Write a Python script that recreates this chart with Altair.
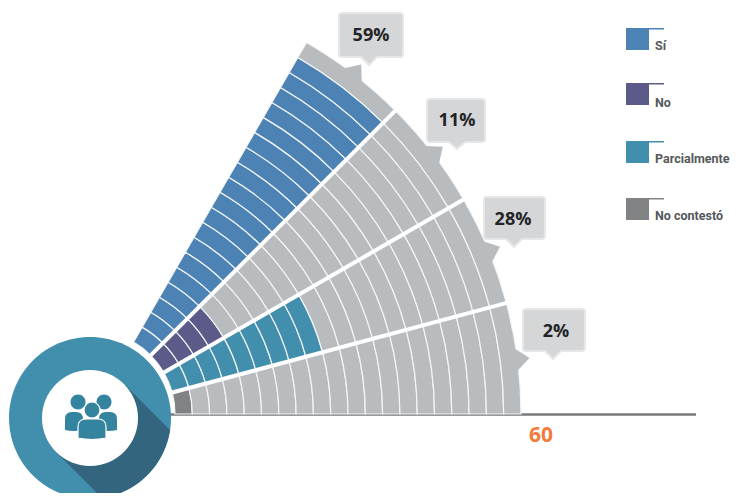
import math
import altair as alt
import pandas as pd

# ---- values ----
categories = ["No contestó", "Parcialmente", "No", "Sí"]      # sector order, from the baseline upward
percent_labels = ["2%", "28%", "11%", "59%"]
filled_cells = [1, 9, 4, 19]
category_colors = ["#808284", "#428ead", "#5b5a88", "#4c83b4"]
legend_order = ["Sí", "No", "Parcialmente", "No contestó"]
legend_colors = ["#4c83b4", "#5b5a88", "#428ead", "#808284"]
axis_label = "60"
TOTAL_CELLS = 20
SECTOR_DEG = 15

GRAY = "#b9bcbf"
W, H = 722, 485
CX, CY = 92, 414
R0, R1 = 83, 429

x_scale = alt.Scale(domain=[8, 8 + W], range=[0, W])
y_scale = alt.Scale(domain=[8, 8 + H], range=[0, H])
X = lambda f: alt.X(f, type="quantitative", scale=x_scale, axis=None)
Y = lambda f: alt.Y(f, type="quantitative", scale=y_scale, axis=None)

# ---- fan cells ----
cells = []
for s, n in enumerate(filled_cells):
    for c in range(TOTAL_CELLS):
        cells.append(dict(a0=s * SECTOR_DEG, a1=(s + 1) * SECTOR_DEG, r0=c, r1=c + 1,
                          color=category_colors[s] if c < n else GRAY))
cells = pd.DataFrame(cells)

fan = alt.Chart(cells).mark_arc(stroke="#f4f5f5", strokeWidth=1.2).encode(
    x=alt.value(CX - 8), y=alt.value(CY - 8),
    theta=alt.Theta("a0:Q", scale=alt.Scale(domain=[0, 360], range=[math.pi / 2, math.pi / 2 - 2 * math.pi])),
    theta2="a1:Q",
    radius=alt.Radius("r0:Q", scale=alt.Scale(type="linear", domain=[0, TOTAL_CELLS], range=[R0, R1])),
    radius2="r1:Q",
    color=alt.Color("color:N", scale=None),
)

# ---- white separators between sectors ----
seps = pd.DataFrame([
    dict(x=CX + R0 * math.cos(math.radians(a)), y=CY - R0 * math.sin(math.radians(a)),
         x2=CX + (R1 + 6) * math.cos(math.radians(a)), y2=CY - (R1 + 6) * math.sin(math.radians(a)))
    for a in (15, 30, 45)
])
sep_layer = alt.Chart(seps).mark_rule(color="white", strokeWidth=4).encode(
    x=X("x"), y=Y("y"), x2="x2:Q", y2="y2:Q")

# ---- baseline ----
base = alt.Chart(pd.DataFrame([dict(x=170, x2=696, y=414.5)])).mark_rule(color="#77797b", strokeWidth=2.5).encode(
    x=X("x"), x2="x2:Q", y=Y("y"))

# ---- decorative glyphs, drawn as custom symbol paths in pixels ----
def circle(r):
    return f"M{-r},0 A{r},{r} 0 1,0 {r},0 A{r},{r} 0 1,0 {-r},0 Z"

def bubble(w, h, tip_dx, tip_dy, r=3):
    # anchored at the bubble's top-left corner
    b0, b1 = tip_dx - 8, tip_dx + 8
    return (f"M{r},0 L{w-r},0 Q{w},0 {w},{r} L{w},{h-r} Q{w},{h} {w-r},{h} "
            f"L{b1},{h} L{tip_dx},{h+tip_dy} L{b0},{h} L{r},{h} Q0,{h} 0,{h-r} L0,{r} Q0,0 {r},0 Z")

BODY = "M{a},{b} L{a},{c} Q{a},{d} {e},{d} L{f},{d} Q{g},{d} {g},{c} L{g},{b} Q0,{h} {a},{b} Z"

glyphs = []
def add(x, y, path, fill, stroke="transparent", sw=0):
    glyphs.append(dict(x=x, y=y, path=path, fill=fill, stroke=stroke, sw=sw))

# pointers on the outer edge of each sector
tips = [7.3, 22.3, 37.3, 52.4]
for t in tips:
    pts = [(427, t - 1.6), (441, t), (427, t + 1.6), (420, t + 1.6), (420, t - 1.6)]
    xy = [(r * math.cos(math.radians(a)), -r * math.sin(math.radians(a))) for r, a in pts]
    add(CX, CY, "M" + " L".join(f"{px:.1f},{py:.1f}" for px, py in xy) + " Z", GRAY)

# value bubbles: left, top, width, height, tip x offset, tip y offset
bubbles = [(523, 309, 62, 42, 30, 8), (484, 197, 61, 42, 30, 8), (427, 99, 58, 43, 30, 7), (339, 13, 64, 44, 30, 8)]
for l, t, w, h, dx, dy in bubbles:
    add(l, t, bubble(w, h, dx, dy), "#d4d6d8", "#e6e7e8", 2)

# badge
BX, BY = 90, 418
add(BX, BY, circle(81), "#428ead")
add(BX, BY, "M80,12 A81,81 0 0,1 12,80 L-34,34 L34,-34 Z", "#33667e")
add(BX, BY, circle(48), "#ffffff")

# people icon
ICON = "#35849f"
add(78, 402, circle(7.5), ICON)
add(104, 402, circle(7.5), ICON)
add(74, 421, BODY.format(a=-9, b=9, c=-2, d=-9, e=-2, f=2, g=9, h=11), ICON)
add(108, 421, BODY.format(a=-9, b=9, c=-2, d=-9, e=-2, f=2, g=9, h=11), ICON)
add(92, 410, circle(8), ICON, "#ffffff", 1.2)
add(92, 429, BODY.format(a=-14, b=9, c=-2, d=-10, e=-6, f=6, g=14, h=12), ICON, "#ffffff", 1.2)

# legend swatches
legend_tops = [28, 83, 141, 198]
for top, col in zip(legend_tops, legend_colors):
    add(626, top, "M0,0 L38,0 L38,1.4 L23,1.4 L23,22 L0,22 Z", col)

glyph_layer = alt.Chart(pd.DataFrame(glyphs)).transform_window(i="row_number()").mark_point(
    filled=True, size=4, opacity=1).encode(
    x=X("x"), y=Y("y"),
    shape=alt.Shape("path:N", scale=None),
    fill=alt.Fill("fill:N", scale=None),
    stroke=alt.Stroke("stroke:N", scale=None),
    strokeWidth=alt.StrokeWidth("sw:Q", scale=None),
    order=alt.Order("i:Q"),
)

# ---- texts ----
pct_pos = [(556, 332), (513, 220), (457, 121), (371, 36)]
pct = pd.DataFrame([dict(x=p[0], y=p[1], t=s) for p, s in zip(pct_pos, percent_labels)])
pct_layer = alt.Chart(pct).mark_text(font="Open Sans", fontWeight="bold", fontSize=18, color="#232426",
                                     align="center", baseline="middle").encode(x=X("x"), y=Y("y"), text="t:N")

axis_text = alt.Chart(pd.DataFrame([dict(x=541, y=436, t=axis_label)])).mark_text(
    font="Open Sans", fontWeight="bold", fontSize=21, color="#f47b3a", align="center", baseline="middle"
).encode(x=X("x"), y=Y("y"), text="t:N")

legend_baselines = [50, 107, 163, 220]
leg = pd.DataFrame([dict(x=655, y=y, t=s) for y, s in zip(legend_baselines, legend_order)])
leg_layer = alt.Chart(leg).mark_text(font="Roboto", fontWeight="bold", fontSize=12.5, color="#55585c",
                                     align="left", baseline="alphabetic").encode(x=X("x"), y=Y("y"), text="t:N")

chart = alt.layer(
    base, fan, sep_layer, glyph_layer, pct_layer, axis_text, leg_layer
).properties(width=W, height=H, padding=0, autosize=alt.AutoSizeParams(type="none"), background="white"
).configure_view(stroke=None)

chart.save("out.html", embed_options={"renderer": "svg", "actions": False})
